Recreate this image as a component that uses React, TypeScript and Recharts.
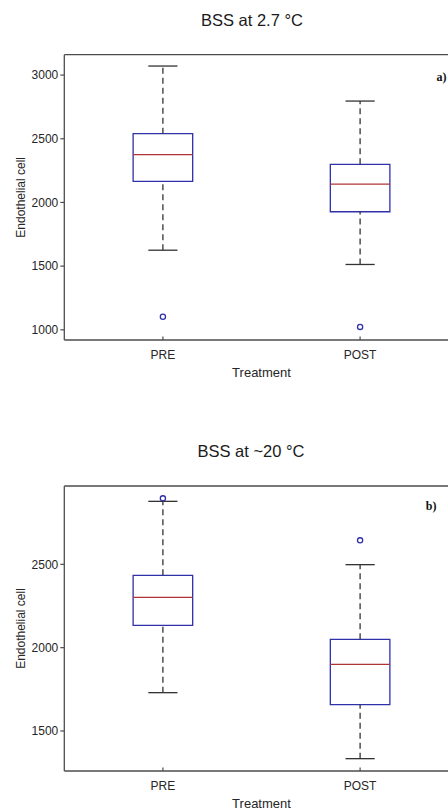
import React from 'react';
import { ComposedChart, XAxis, YAxis, ReferenceArea, ReferenceLine, Scatter } from 'recharts';

const categories = ['PRE', 'POST'];
const positions = [1, 2];

// Panel a) BSS at 2.7 °C
const aTitle = 'BSS at 2.7 °C';
const aMin = [1625, 1513];
const aQ1 = [2165, 1927];
const aMedian = [2375, 2144];
const aQ3 = [2540, 2299];
const aMax = [3071, 2796];
const aOutliers = [[1102], [1023]];
const aTicks = [1000, 1500, 2000, 2500, 3000];
const aDomain = [920, 3160];

// Panel b) BSS at ~20 °C
const bTitle = 'BSS at ~20 °C';
const bMin = [1730, 1334];
const bQ1 = [2134, 1658];
const bMedian = [2302, 1900];
const bQ3 = [2434, 2050];
const bMax = [2878, 2498];
const bOutliers = [[2896], [2644]];
const bTicks = [1500, 2000, 2500];
const bDomain = [1260, 2970];

const FONT = '"Liberation Sans", Arial, Helvetica, sans-serif';
const AXIS = '#4d4d4d';
const TEXT = '#262626';
const BLUE = '#3030a8';
const RED = '#b03434';
const WHISK = '#333333';
const BOX_HALF = 0.151;
const CAP_HALF = 0.074;

type PanelProps = {
  min: number[];
  q1: number[];
  med: number[];
  q3: number[];
  max: number[];
  outliers: number[][];
  ticks: number[];
  domain: number[];
  top: number;
  height: number;
  marginTop: number;
};

const BottomTick = (props: any) => {
  const { x, y, payload } = props;
  return (
    <g>
      <line x1={x} x2={x} y1={y} y2={y - 3.5} stroke={AXIS} strokeWidth={1.2} />
      <text x={x} y={y + 19.3} textAnchor="middle" fontSize={12} fill={TEXT} fontFamily={FONT}>
        {categories[payload.value - 1]}
      </text>
    </g>
  );
};

const TopTick = (props: any) => {
  const { x, y } = props;
  return <line x1={x} x2={x} y1={y} y2={y + 3.5} stroke={AXIS} strokeWidth={1.2} />;
};

const Panel = ({ min, q1, med, q3, max, outliers, ticks, domain, top, height, marginTop }: PanelProps) => {
  const outlierData = outliers.flatMap((vals, i) => vals.map((v) => ({ x: positions[i], y: v })));
  return (
    <div style={{ position: 'absolute', left: 0, top, width: 470, height }}>
      <ComposedChart
        width={470}
        height={height}
        margin={{ top: marginTop - 2, right: 11.3, left: 4, bottom: 0 }}
      >
        <XAxis
          dataKey="x"
          type="number"
          domain={[0.5, 2.5]}
          allowDataOverflow
          ticks={positions}
          interval={0}
          height={40}
          tickSize={0}
          tickMargin={0}
          tickLine={false}
          axisLine={{ stroke: AXIS, strokeWidth: 1.3 }}
          tick={<BottomTick />}
          label={(p: any) => {
            const vb = p.viewBox;
            return (
              <text
                x={vb.x + vb.width / 2}
                y={vb.y + 36.7}
                textAnchor="middle"
                fontSize={13}
                fill={TEXT}
                fontFamily={FONT}
              >
                Treatment
              </text>
            );
          }}
        />
        <XAxis
          xAxisId="top"
          orientation="top"
          type="number"
          domain={[0.5, 2.5]}
          allowDataOverflow
          ticks={positions}
          interval={0}
          height={2}
          tickSize={0}
          tickMargin={0}
          tickLine={false}
          axisLine={{ stroke: AXIS, strokeWidth: 1.3 }}
          tick={<TopTick />}
        />
        <YAxis
          dataKey="y"
          type="number"
          domain={domain}
          allowDataOverflow
          ticks={ticks}
          interval={0}
          width={60.3}
          tickSize={4}
          tickMargin={2}
          tickLine={{ stroke: AXIS, strokeWidth: 1.2 }}
          axisLine={{ stroke: AXIS, strokeWidth: 1.3 }}
          tick={{ fontSize: 12, fill: TEXT, fontFamily: FONT }}
          label={(p: any) => {
            const vb = p.viewBox;
            const cy = vb.y + vb.height / 2;
            return (
              <text
                x={25}
                y={cy}
                transform={`rotate(-90, 25, ${cy})`}
                textAnchor="middle"
                fontSize={12}
                fill={TEXT}
                fontFamily={FONT}
              >
                Endothelial cell
              </text>
            );
          }}
        />
        {positions.map((p, i) => (
          <ReferenceLine
            key={`wu${i}`}
            segment={[{ x: p, y: q3[i] }, { x: p, y: max[i] }]}
            stroke={WHISK}
            strokeWidth={1.3}
            strokeDasharray="6 4"
          />
        ))}
        {positions.map((p, i) => (
          <ReferenceLine
            key={`wl${i}`}
            segment={[{ x: p, y: min[i] }, { x: p, y: q1[i] }]}
            stroke={WHISK}
            strokeWidth={1.3}
            strokeDasharray="6 4"
          />
        ))}
        {positions.map((p, i) => (
          <ReferenceLine
            key={`cu${i}`}
            segment={[{ x: p - CAP_HALF, y: max[i] }, { x: p + CAP_HALF, y: max[i] }]}
            stroke={WHISK}
            strokeWidth={1.3}
          />
        ))}
        {positions.map((p, i) => (
          <ReferenceLine
            key={`cl${i}`}
            segment={[{ x: p - CAP_HALF, y: min[i] }, { x: p + CAP_HALF, y: min[i] }]}
            stroke={WHISK}
            strokeWidth={1.3}
          />
        ))}
        {positions.map((p, i) => (
          <ReferenceArea
            key={`box${i}`}
            x1={p - BOX_HALF}
            x2={p + BOX_HALF}
            y1={q1[i]}
            y2={q3[i]}
            fill="none"
            fillOpacity={0}
            stroke={BLUE}
            strokeWidth={1.3}
            strokeOpacity={1}
          />
        ))}
        {positions.map((p, i) => (
          <ReferenceLine
            key={`med${i}`}
            segment={[{ x: p - BOX_HALF, y: med[i] }, { x: p + BOX_HALF, y: med[i] }]}
            stroke={RED}
            strokeWidth={1.3}
          />
        ))}
        <Scatter
          data={outlierData}
          isAnimationActive={false}
          shape={(s: any) => (
            <circle cx={s.cx} cy={s.cy} r={2.6} fill="none" stroke={BLUE} strokeWidth={1.3} />
          )}
        />
      </ComposedChart>
    </div>
  );
};

export default function App() {
  return (
    <div
      style={{
        position: 'absolute',
        left: 0,
        top: 0,
        width: 448,
        height: 810,
        overflow: 'hidden',
        background: '#fff',
      }}
    >
      <Panel
        min={aMin}
        q1={aQ1}
        med={aMedian}
        q3={aQ3}
        max={aMax}
        outliers={aOutliers}
        ticks={aTicks}
        domain={aDomain}
        top={0}
        height={380}
        marginTop={54.7}
      />
      <Panel
        min={bMin}
        q1={bQ1}
        med={bMedian}
        q3={bQ3}
        max={bMax}
        outliers={bOutliers}
        ticks={bTicks}
        domain={bDomain}
        top={432}
        height={379}
        marginTop={54}
      />
      <svg
        width={448}
        height={810}
        style={{ position: 'absolute', left: 0, top: 0, pointerEvents: 'none' }}
      >
        <text x={252} y={25.7} textAnchor="middle" fontSize={16.5} fill="#1a1a1a" fontFamily={FONT}>
          {aTitle}
        </text>
        <text x={251} y={457.3} textAnchor="middle" fontSize={16.5} fill="#1a1a1a" fontFamily={FONT}>
          {bTitle}
        </text>
        <text x={446.5} y={80.5} textAnchor="end" fontSize={12} fontWeight="bold" fill="#111" fontFamily='"Liberation Serif", "Times New Roman", serif'>
          a)
        </text>
        <text x={436.5} y={510} textAnchor="end" fontSize={12} fontWeight="bold" fill="#111" fontFamily='"Liberation Serif", "Times New Roman", serif'>
          b)
        </text>
      </svg>
    </div>
  );
}
